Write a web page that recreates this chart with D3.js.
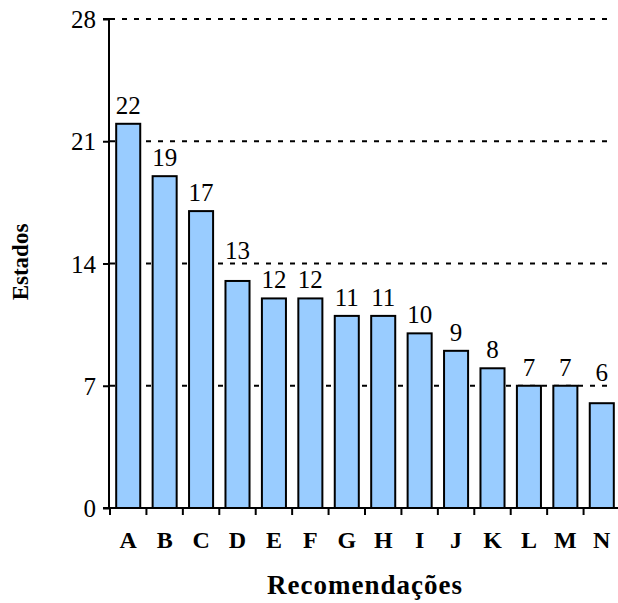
<!DOCTYPE html>
<html><head><meta charset="utf-8">
<script src="https://cdn.jsdelivr.net/npm/d3@7"></script>
<style>body{margin:0;background:#fff}svg{display:block}</style>
</head><body>
<svg id="c" width="618" height="603"></svg>
<script>
const categories = ["A","B","C","D","E","F","G","H","I","J","K","L","M","N"];
const values = [22,19,17,13,12,12,11,11,10,9,8,7,7,6];
const yTicks = [0,7,14,21,28];
const yTitle = "Estados";
const xTitle = "Recomendações";
const FF = "Liberation Serif";

const svg = d3.select("#c");
const x = d3.scaleBand().domain(categories).range([110, 620]).paddingInner(0.34).paddingOuter(0.17);
const y = d3.scaleLinear().domain([0,28]).range([508, 19]);

// gridlines
svg.append("g").selectAll("line").data(yTicks.filter(d=>d>0)).join("line")
  .attr("x1",110).attr("x2",613).attr("y1",d=>y(d)).attr("y2",d=>y(d))
  .attr("stroke","#000").attr("stroke-width",2.2).attr("stroke-dasharray","5,7");

// bars
svg.append("g").selectAll("rect").data(values).join("rect")
  .attr("x",(d,i)=>x(categories[i])).attr("width",x.bandwidth())
  .attr("y",d=>y(d)).attr("height",d=>y(0)-y(d))
  .attr("fill","#99CCFF").attr("stroke","#000").attr("stroke-width",2);

// value labels: placed above bar, moved above a gridline they would cross
function labelY(d){
  let b = y(d) - 10;
  yTicks.forEach(t => { const g = y(t); if (g > b - 19 && g < b + 3) b = g - 5; });
  return b;
}
svg.append("g").selectAll("text").data(values).join("text")
  .attr("x",(d,i)=>x(categories[i])+x.bandwidth()/2).attr("y",labelY)
  .attr("text-anchor","middle").style("font-family",FF).attr("font-size",25).text(d=>d);

// y axis
const ya = svg.append("g").attr("transform","translate(109,0)")
  .call(d3.axisLeft(y).tickValues(yTicks).tickSize(6).tickPadding(7));
ya.attr("font-family",null);
ya.select(".domain").attr("stroke","#000").attr("stroke-width",2).attr("d",`M-6,${y(28)}H0V${y(0)}H-6`);
ya.selectAll(".tick line").attr("stroke-width",2);
ya.selectAll(".tick text").attr("font-size",25).style("font-family",FF).attr("fill","#000").attr("dy","0.34em");

// x axis
const xa = svg.append("g").attr("transform",`translate(0,${y(0)})`);
xa.append("line").attr("x1",109).attr("x2",620).attr("stroke","#000").attr("stroke-width",2);
const step = x.step();
xa.selectAll("line.t").data(categories.slice(1)).join("line").attr("class","t")
  .attr("x1",d=>x(d)-x.paddingInner()*step/2).attr("x2",d=>x(d)-x.paddingInner()*step/2)
  .attr("y1",0).attr("y2",7).attr("stroke","#000").attr("stroke-width",2);
xa.append("line").attr("x1",110).attr("x2",110).attr("y1",0).attr("y2",7).attr("stroke","#000").attr("stroke-width",2);
xa.selectAll("text").data(categories).join("text")
  .attr("x",d=>x(d)+x.bandwidth()/2).attr("y",40)
  .attr("text-anchor","middle").style("font-family",FF).attr("font-size",24).attr("font-weight","bold").text(d=>d);

svg.append("text").attr("x",365).attr("y",594).attr("text-anchor","middle").style("font-family",FF)
  .attr("font-size",27).attr("font-weight","bold").attr("letter-spacing",1).text(xTitle);
svg.append("text").attr("transform","translate(28,262) rotate(-90)").attr("text-anchor","middle").style("font-family",FF)
  .attr("font-size",23).attr("font-weight","bold").text(yTitle);
</script>
</body></html>
